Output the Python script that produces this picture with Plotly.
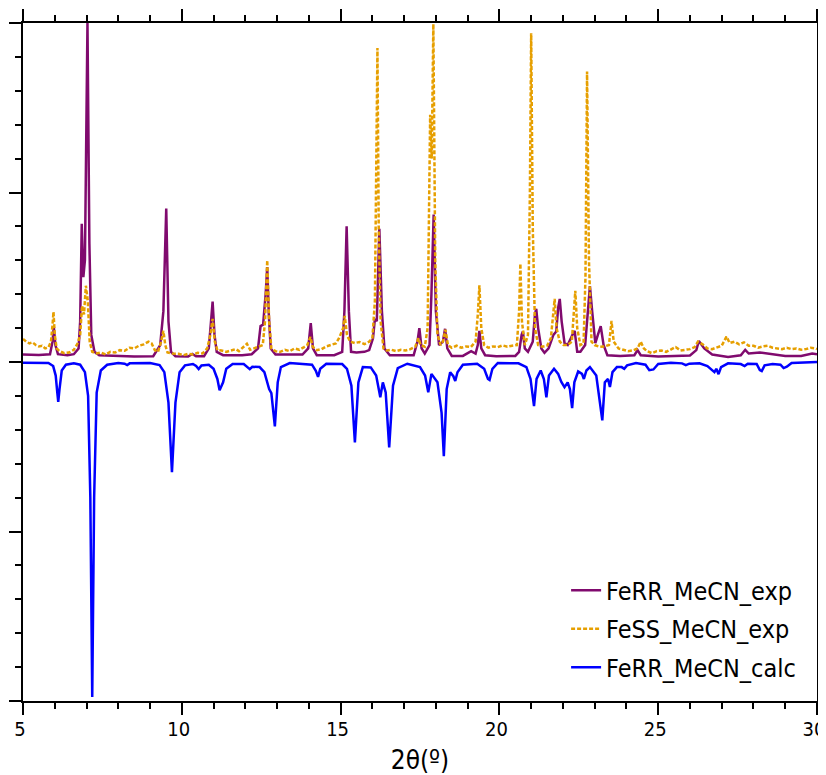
import plotly.graph_objects as go

# ---- data (2theta in degrees, intensity scaled so that the top of the frame = 100) ----
ferr_exp_points = [
    (5.00, 2.2), (5.50, 2.1), (5.85, 2.3), (5.93, 6.0), (5.97, 10.4), (6.02, 5.0), (6.10, 2.3),
    (6.40, 2.0), (6.60, 2.3), (6.75, 4.0), (6.80, 12.0), (6.85, 40.8), (6.90, 25.0), (6.95, 30.0),
    (7.03, 100.0), (7.09, 35.0), (7.15, 8.0), (7.25, 3.0), (7.40, 2.0), (8.00, 1.7), (8.50, 1.6),
    (9.10, 1.7), (9.25, 4.0), (9.32, 5.0), (9.42, 15.0), (9.51, 45.3), (9.58, 12.0), (9.66, 3.0),
    (9.80, 1.7), (10.20, 1.6), (10.33, 2.4), (10.45, 1.7), (10.70, 1.7), (10.85, 4.0), (10.92, 12.0),
    (10.97, 17.8), (11.03, 8.0), (11.10, 3.0), (11.30, 2.0), (11.90, 2.0), (12.20, 2.3), (12.40, 4.0),
    (12.48, 10.6), (12.56, 11.0), (12.64, 20.0), (12.69, 28.0), (12.74, 14.0), (12.80, 4.0),
    (12.95, 2.2), (13.80, 2.2), (13.98, 4.0), (14.06, 11.5), (14.13, 4.0), (14.25, 2.0), (14.80, 2.0),
    (15.05, 3.0), (15.12, 15.0), (15.19, 40.0), (15.26, 15.0), (15.33, 3.0), (15.50, 2.8),
    (15.75, 3.0), (15.90, 3.5), (16.02, 7.0), (16.08, 12.7), (16.14, 12.0), (16.22, 39.3),
    (16.30, 15.0), (16.38, 4.0), (16.55, 2.0), (17.30, 2.0), (17.42, 6.0), (17.48, 10.0),
    (17.55, 4.0), (17.65, 2.5), (17.80, 5.0), (17.86, 20.0), (17.93, 43.5), (18.00, 15.0),
    (18.10, 5.0), (18.22, 6.0), (18.29, 9.8), (18.36, 4.0), (18.50, 1.8), (18.85, 1.8), (19.11, 3.2),
    (19.25, 2.5), (19.32, 5.0), (19.37, 9.2), (19.43, 4.0), (19.55, 2.0), (19.90, 1.7), (20.50, 1.8),
    (20.62, 3.0), (20.70, 8.0), (20.74, 9.0), (20.80, 4.0), (20.90, 3.0), (21.05, 6.0), (21.12, 14.0),
    (21.16, 15.7), (21.22, 10.0), (21.32, 4.0), (21.42, 2.7), (21.55, 4.0), (21.70, 8.0), (21.79, 9.0),
    (21.85, 16.0), (21.90, 18.6), (21.96, 12.0), (22.05, 5.6), (22.15, 5.0), (22.30, 8.0),
    (22.37, 9.2), (22.45, 3.0), (22.55, 3.0), (22.70, 5.0), (22.80, 16.0), (22.85, 22.4),
    (22.92, 15.0), (23.02, 5.6), (23.10, 8.0), (23.19, 10.6), (23.28, 5.0), (23.40, 2.0),
    (23.80, 1.8), (24.25, 2.0), (24.35, 3.5), (24.45, 2.0), (25.00, 1.6), (25.60, 1.7), (26.00, 1.9),
    (26.20, 3.5), (26.28, 6.2), (26.45, 4.0), (26.70, 2.2), (27.20, 1.5), (27.60, 2.0), (27.74, 3.6),
    (27.85, 2.5), (28.20, 2.8), (28.60, 2.4), (29.00, 1.8), (29.50, 1.8), (29.85, 2.5), (30.00, 2.3),
]

fess_exp_points = [
    (5.00, 6.8), (5.10, 6.0), (5.20, 5.5), (5.30, 5.8), (5.40, 5.0), (5.50, 4.6), (5.60, 4.8),
    (5.70, 4.0), (5.80, 4.3), (5.88, 6.0), (5.93, 11.0), (5.96, 14.8), (6.00, 8.0), (6.06, 4.0),
    (6.15, 3.2), (6.30, 2.6), (6.45, 2.8), (6.60, 3.6), (6.72, 5.5), (6.80, 8.0), (6.86, 16.6),
    (6.92, 14.0), (6.98, 22.5), (7.04, 18.0), (7.10, 6.0), (7.18, 3.0), (7.30, 2.5), (7.45, 2.8),
    (7.60, 2.2), (7.75, 3.0), (7.90, 2.8), (8.05, 3.5), (8.20, 3.3), (8.35, 4.2), (8.50, 4.0),
    (8.65, 4.8), (8.80, 5.2), (8.95, 6.0), (9.05, 5.5), (9.15, 3.5), (9.25, 3.0), (9.35, 6.0),
    (9.42, 9.2), (9.48, 5.0), (9.55, 2.8), (9.70, 2.5), (9.90, 2.4), (10.05, 2.0), (10.20, 2.4),
    (10.35, 2.2), (10.50, 2.7), (10.65, 2.5), (10.80, 4.0), (10.90, 8.0), (10.97, 12.7),
    (11.04, 6.0), (11.12, 3.5), (11.25, 3.4), (11.40, 3.0), (11.55, 3.4), (11.70, 3.8), (11.80, 3.2),
    (11.95, 4.5), (12.05, 5.4), (12.15, 3.6), (12.30, 4.2), (12.40, 4.5), (12.55, 5.0), (12.62, 12.0),
    (12.69, 30.0), (12.75, 12.0), (12.82, 4.0), (12.95, 3.2), (13.10, 3.0), (13.25, 3.6),
    (13.40, 3.2), (13.55, 4.0), (13.70, 3.6), (13.85, 4.4), (13.95, 5.0), (14.05, 7.4), (14.12, 4.5),
    (14.25, 3.5), (14.40, 3.8), (14.55, 4.6), (14.70, 5.0), (14.85, 5.5), (14.95, 7.0), (15.08, 10.0),
    (15.13, 13.6), (15.20, 8.0), (15.30, 6.0), (15.45, 5.6), (15.60, 5.9), (15.75, 5.3), (15.90, 6.0),
    (16.00, 7.0), (16.08, 18.0), (16.13, 60.0), (16.16, 92.6), (16.20, 40.0), (16.26, 12.0),
    (16.35, 4.0), (16.45, 3.4), (16.60, 3.6), (16.75, 3.2), (16.90, 3.6), (17.05, 3.4), (17.20, 3.8),
    (17.35, 4.5), (17.45, 7.0), (17.52, 5.0), (17.65, 4.5), (17.74, 10.0), (17.82, 72.9),
    (17.87, 60.0), (17.92, 99.7), (17.98, 30.0), (18.05, 8.0), (18.15, 5.0), (18.22, 6.0),
    (18.30, 9.5), (18.38, 5.0), (18.50, 4.2), (18.65, 4.8), (18.80, 4.2), (18.95, 4.6), (19.10, 4.4),
    (19.25, 6.0), (19.32, 14.0), (19.37, 22.6), (19.43, 10.0), (19.52, 5.0), (19.65, 4.2),
    (19.80, 4.6), (19.95, 4.4), (20.10, 4.9), (20.25, 4.5), (20.40, 4.8), (20.55, 5.0), (20.62, 15.0),
    (20.66, 29.0), (20.71, 12.0), (20.80, 5.0), (20.90, 8.0), (20.96, 50.0), (21.00, 97.0),
    (21.05, 40.0), (21.12, 10.0), (21.22, 5.0), (21.35, 4.5), (21.50, 4.8), (21.62, 7.0),
    (21.70, 15.0), (21.74, 18.6), (21.80, 10.0), (21.90, 6.0), (22.02, 5.0), (22.15, 5.0),
    (22.28, 6.0), (22.34, 15.0), (22.39, 21.0), (22.45, 10.0), (22.55, 5.0), (22.65, 5.5),
    (22.71, 25.0), (22.76, 85.7), (22.82, 30.0), (22.90, 6.0), (23.00, 5.0), (23.15, 4.5),
    (23.30, 4.6), (23.45, 5.0), (23.53, 12.1), (23.60, 6.0), (23.75, 4.0), (23.90, 3.6), (24.05, 3.2),
    (24.20, 3.4), (24.35, 4.0), (24.45, 6.0), (24.55, 4.0), (24.65, 3.2), (24.80, 2.6), (24.95, 3.2),
    (25.10, 3.4), (25.25, 3.0), (25.40, 3.6), (25.55, 4.4), (25.70, 3.4), (25.85, 3.6), (26.00, 3.8),
    (26.15, 4.4), (26.25, 6.0), (26.40, 5.2), (26.55, 4.0), (26.70, 3.8), (26.85, 4.4), (27.00, 4.8),
    (27.15, 7.5), (27.25, 5.6), (27.40, 6.0), (27.55, 5.2), (27.70, 5.8), (27.85, 4.8), (28.00, 4.8),
    (28.15, 4.2), (28.30, 4.6), (28.45, 4.8), (28.60, 4.2), (28.75, 4.0), (28.90, 3.8), (29.05, 4.2),
    (29.20, 3.8), (29.35, 4.0), (29.50, 3.6), (29.65, 3.8), (29.80, 4.2), (29.95, 4.0), (30.00, 3.8),
]

ferr_calc_points = [
    (5.00, -0.2), (5.80, -0.3), (5.95, -1.2), (6.03, -4.0), (6.08, -9.0), (6.11, -11.8), (6.15, -8.0),
    (6.22, -2.5), (6.35, -0.8), (6.60, -0.4), (6.80, -0.8), (6.95, -3.0), (7.05, -10.0),
    (7.12, -40.0), (7.18, -98.8), (7.24, -40.0), (7.32, -9.0), (7.45, -2.5), (7.65, -0.8),
    (8.00, -0.3), (8.20, -0.5), (8.28, -0.9), (8.36, -0.4), (9.00, -0.3), (9.30, -0.9), (9.45, -3.0),
    (9.58, -12.0), (9.69, -32.5), (9.80, -12.0), (9.93, -3.0), (10.10, -1.0), (10.35, -0.6),
    (10.45, -1.2), (10.53, -2.1), (10.62, -1.0), (10.85, -0.8), (11.00, -2.0), (11.12, -5.0),
    (11.19, -8.3), (11.24, -7.0), (11.30, -6.0), (11.40, -2.0), (11.60, -0.6), (11.95, -0.6),
    (12.08, -1.6), (12.14, -2.1), (12.22, -1.4), (12.45, -1.5), (12.60, -3.0), (12.75, -8.0),
    (12.82, -9.2), (12.93, -19.0), (13.02, -6.0), (13.12, -1.5), (13.40, -0.3), (14.10, -0.8),
    (14.22, -2.6), (14.29, -4.4), (14.36, -2.0), (14.55, -0.5), (15.05, -0.6), (15.20, -2.0),
    (15.34, -7.0), (15.45, -23.7), (15.56, -6.0), (15.70, -1.5), (15.95, -1.6), (16.12, -4.0),
    (16.25, -10.4), (16.33, -6.0), (16.42, -9.0), (16.53, -25.2), (16.65, -7.0), (16.80, -1.8),
    (17.10, -0.5), (17.50, -1.5), (17.66, -4.0), (17.76, -8.9), (17.86, -3.5), (18.05, -6.0),
    (18.18, -15.0), (18.25, -27.8), (18.34, -8.0), (18.45, -3.0), (18.55, -4.2), (18.61, -5.6),
    (18.68, -3.0), (18.85, -0.8), (19.30, -0.5), (19.52, -2.0), (19.64, -5.0), (19.69, -5.3),
    (19.78, -2.0), (19.95, -0.3), (20.60, -0.4), (20.85, -1.5), (20.98, -5.0), (21.09, -13.0),
    (21.17, -5.0), (21.30, -2.5), (21.40, -5.0), (21.48, -10.4), (21.56, -4.0), (21.72, -2.0),
    (21.85, -3.5), (21.95, -5.9), (22.05, -7.4), (22.15, -6.0), (22.22, -8.0), (22.29, -13.6),
    (22.36, -6.0), (22.48, -2.8), (22.60, -3.5), (22.66, -5.0), (22.74, -2.5), (22.85, -1.5),
    (23.05, -4.0), (23.16, -11.0), (23.24, -17.2), (23.32, -6.0), (23.42, -5.0), (23.48, -7.4),
    (23.56, -3.0), (23.70, -1.5), (23.85, -1.5), (23.93, -2.0), (24.02, -1.0), (24.30, -0.3),
    (24.60, -0.8), (24.72, -2.4), (24.85, -2.2), (25.00, -0.6), (25.40, -0.2), (25.75, -0.4),
    (25.87, -0.9), (25.98, -0.5), (26.30, -0.4), (26.55, -1.2), (26.70, -2.5), (26.77, -3.0),
    (26.83, -2.0), (26.90, -3.6), (26.98, -1.5), (27.20, -0.4), (27.60, -0.6), (27.72, -1.2),
    (27.82, -0.5), (28.10, -0.6), (28.20, -2.4), (28.26, -2.7), (28.35, -1.0), (28.60, -0.6),
    (28.85, -0.8), (28.95, -1.8), (29.05, -1.4), (29.20, -0.3), (30.00, 0.0),
]

series_names = ["FeRR_MeCN_exp", "FeSS_MeCN_exp", "FeRR_MeCN_calc"]
x_ticks = [5, 10, 15, 20, 25, 30]
x_tick_text = ["5", "10", "15", "20", "25", "30"]

FONT = "DejaVu Sans Condensed, Liberation Sans Narrow, sans-serif"

fig = go.Figure()
for i, (pts, name, color, dash) in enumerate([
    (ferr_exp_points, series_names[0], "#800a6e", "solid"),
    (fess_exp_points, series_names[1], "#e69f00", "4px,2px"),
    (ferr_calc_points, series_names[2], "#0000ff", "solid"),
]):
    xs = [p[0] for p in pts]
    ys = [p[1] for p in pts]
    fig.add_trace(go.Scatter(x=xs, y=ys, mode="lines", name=name, legendgroup=f"g{i}",
                             line=dict(color=color, width=2.5, dash=dash)))

axis_common = dict(
    showline=True, linecolor="black", linewidth=2, mirror="ticks",
    ticks="outside", tickcolor="black", tickwidth=2, ticklen=12,
    showgrid=False, zeroline=False, automargin=False,
)

fig.update_xaxes(
    range=[5, 30], tickvals=x_ticks, ticktext=x_tick_text,
    minor=dict(dtick=1, ticks="outside", ticklen=6, tickwidth=2, tickcolor="black", showgrid=False),
    tickfont=dict(family=FONT, size=20, color="black"),
    ticklabelstandoff=-3, ticklabelshift=-3, ticklabeloverflow="allow",
    title=dict(text="2θ(º)", font=dict(family=FONT, size=26, color="black"), standoff=22),
    **axis_common,
)
fig.update_yaxes(
    range=[-100, 100], dtick=50, showticklabels=False,
    minor=dict(dtick=10, ticks="outside", ticklen=6, tickwidth=2, tickcolor="black", showgrid=False),
    **axis_common,
)

# the page body adds an 8 px offset, so the figure is 8 px smaller than the window
fig.update_layout(
    width=818, height=767,
    margin=dict(l=15, r=9, t=15, b=74),
    paper_bgcolor="white", plot_bgcolor="white",
    showlegend=True,
    legend=dict(x=0.684, y=0.197, xanchor="left", yanchor="top",
                font=dict(family=FONT, size=25, color="black"),
                bgcolor="rgba(0,0,0,0)", itemwidth=30, tracegroupgap=3),
)

fig.write_html("out.html")
